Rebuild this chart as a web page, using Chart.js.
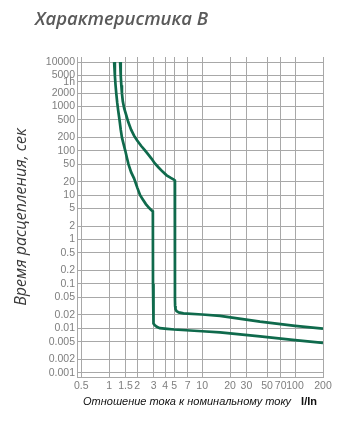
<!DOCTYPE html>
<html>
<head>
<meta charset="utf-8">
<script src="https://cdn.jsdelivr.net/npm/chart.js@4"></script>
<style>
  html, body { margin: 0; padding: 0; background: #fff; }
  #wrap { width: 344px; height: 423px; position: relative; }
</style>
</head>
<body>
<div id="wrap"><canvas id="chart"></canvas></div>
<script>
// current ratio I/In and trip time (s) for the two boundary curves
const lowerI = [1.13, 1.15, 1.17, 1.19, 1.22, 1.25, 1.29, 1.33, 1.37, 1.43, 1.49, 1.55, 1.61, 1.72, 1.85, 2.0, 2.15, 2.3, 2.48, 2.68, 2.85, 2.95, 2.96, 2.97, 2.99, 3.03, 3.1, 3.25, 3.5, 4.2, 5, 10, 15.6, 42, 100, 200];
const lowerT = [10000, 5000, 3000, 2000, 1200, 800, 500, 300, 200, 140, 100, 70, 50, 33, 24, 15, 10, 8, 6.3, 5.2, 4.6, 4.3, 0.1, 0.02, 0.015, 0.0128, 0.0117, 0.0108, 0.0101, 0.0097, 0.0094, 0.0086, 0.0081, 0.0066, 0.0054, 0.0047];
const upperI = [1.31, 1.33, 1.35, 1.37, 1.4, 1.45, 1.52, 1.6, 1.72, 1.85, 2.0, 2.2, 2.4, 2.6, 2.85, 3.1, 3.4, 3.75, 4.15, 4.6, 4.95, 5.08, 5.1, 5.1, 5.12, 5.17, 5.3, 5.6, 6.3, 10, 15.6, 42, 100, 200];
const upperT = [10000, 5000, 3000, 2000, 1300, 900, 650, 450, 300, 220, 170, 130, 105, 85, 67, 52, 42, 34, 28, 24.5, 22.5, 21.5, 20, 0.045, 0.032, 0.027, 0.0245, 0.0228, 0.0218, 0.0205, 0.019, 0.0141, 0.0114, 0.0098];

const xTicks = [0.5, 1, 1.5, 2, 3, 4, 5, 7, 10, 20, 30, 50, 70, 100, 200];
const yTicks = [0.001, 0.002, 0.005, 0.01, 0.02, 0.05, 0.1, 0.2, 0.5, 1, 2, 5, 10, 20, 50, 100, 200, 500, 1000, 2000, 3600, 5000, 10000];
const yTickLabels = ['0.001', '0.002', '0.005', '0.01', '0.02', '0.05', '0.1', '0.2', '0.5', '1', '2', '5', '10', '20', '50', '100', '200', '500', '1000', '2000', '1h', '5000', '10000'];

const toPoints = (xs, ys) => xs.map((x, i) => ({ x: x, y: ys[i] }));
const lineColor = '#0f6a4c';
const gridColor = '#a8a8a8';

// title text and x axis title (mixed italic / bold)
const textPlugin = {
  id: 'texts',
  afterDraw(chart) {
    const ctx = chart.ctx;
    ctx.save();
    ctx.fillStyle = '#5a5a5a';
    ctx.textBaseline = 'alphabetic';
    ctx.textAlign = 'left';
    ctx.font = 'italic 600 18.5px "Open Sans"';
    ctx.fillText('Характеристика B', 35, 25);

    ctx.fillStyle = '#111';
    ctx.font = 'italic 11px "Liberation Sans"';
    const label = 'Отношение тока к номинальному току';
    ctx.fillText(label, 83, 405);
    const w = ctx.measureText(label).width;
    ctx.font = 'bold 11px "Liberation Sans"';
    ctx.fillText('I/In', 83 + w + 10, 405);
    ctx.restore();
  }
};

new Chart(document.getElementById('chart'), {
  type: 'line',
  data: {
    datasets: [
      { data: toPoints(lowerI, lowerT), borderColor: lineColor, borderWidth: 2.7, pointRadius: 0, tension: 0, fill: false },
      { data: toPoints(upperI, upperT), borderColor: lineColor, borderWidth: 2.7, pointRadius: 0, tension: 0, fill: false }
    ]
  },
  options: {
    responsive: true,
    maintainAspectRatio: false,
    animation: false,
    layout: { padding: { top: 57, right: 21, bottom: 0, left: 0 } },
    plugins: {
      legend: { display: false },
      tooltip: { enabled: false }
    },
    scales: {
      x: {
        type: 'logarithmic',
        min: 0.45,
        max: 200,
        afterBuildTicks: s => { s.ticks = xTicks.map(v => ({ value: v })); },
        afterFit: s => { s.height = 46; },
        grid: { color: gridColor, drawTicks: false },
        border: { color: gridColor },
        ticks: {
          autoSkip: false,
          maxRotation: 0,
          padding: 3,
          color: '#7e7e7e',
          font: { family: 'Liberation Sans', size: 10.5 },
          callback: v => String(v)
        }
      },
      y: {
        type: 'logarithmic',
        min: 0.0008,
        max: 13000,
        afterBuildTicks: s => { s.ticks = yTicks.map(v => ({ value: v })); },
        afterFit: s => { s.width = 77; },
        grid: { color: gridColor, drawTicks: false },
        border: { color: gridColor },
        title: {
          display: true,
          text: 'Время расцепления, сек',
          color: '#3a3a3a',
          padding: { top: 12, bottom: 0 },
          font: { family: 'Open Sans', size: 16, style: 'italic' }
        },
        ticks: {
          autoSkip: false,
          padding: 2,
          color: '#7e7e7e',
          font: { family: 'Liberation Sans', size: 10.5 },
          callback: function (v) {
            const i = yTicks.indexOf(v);
            return i >= 0 ? yTickLabels[i] : '';
          }
        }
      }
    }
  },
  plugins: [textPlugin]
});
</script>
</body>
</html>
